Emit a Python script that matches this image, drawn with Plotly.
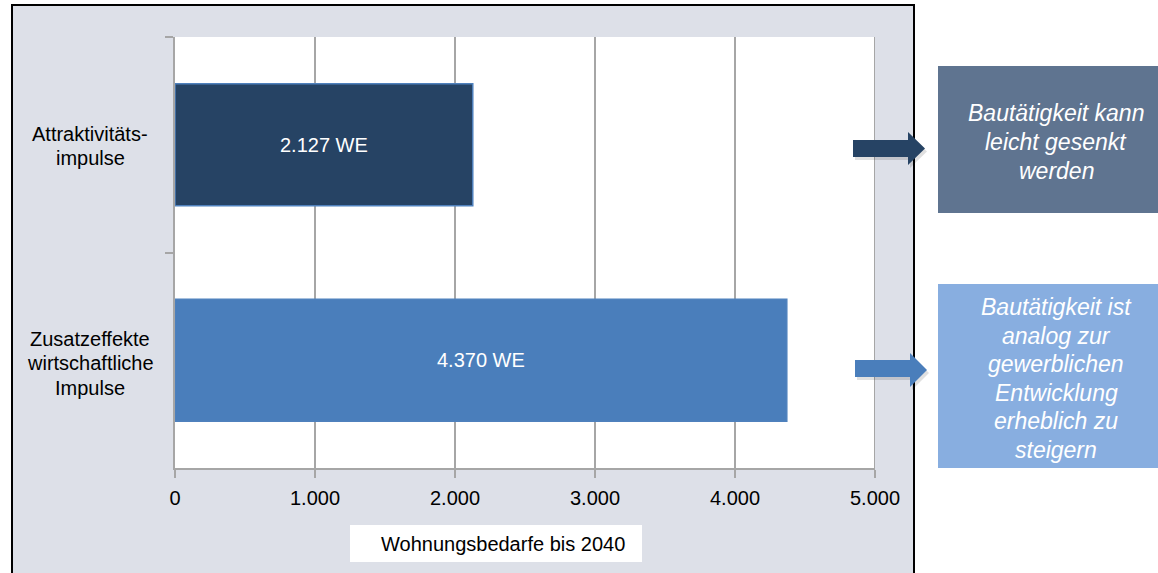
import plotly.graph_objects as go

# ---------------- data ----------------
categories = ["Attraktivitäts-impulse", "Zusatzeffekte wirtschaftliche Impulse"]
category_lines = [["Attraktivitäts-", "impulse"], ["Zusatzeffekte", "wirtschaftliche", "Impulse"]]
values = [2127, 4370]
bar_colors = ["#264364", "#4A7EBB"]
x_ticks = [0, 1000, 2000, 3000, 4000, 5000]
x_tick_labels = ["0", "1.000", "2.000", "3.000", "4.000", "5.000"]
axis_title = "Wohnungsbedarfe bis 2040"
box_lines = [["Bautätigkeit kann", "leicht gesenkt", "werden"],
             ["Bautätigkeit ist", "analog zur", "gewerblichen", "Entwicklung", "erheblich zu", "steigern"]]
box_colors = ["#5F7490", "#88AEE0"]
arrow_colors = ["#264364", "#4A7EBB"]

FONT = "Liberation Sans, Arial, sans-serif"

# ---------------- layout helpers (pixel -> paper) ----------------
WIDTH, HEIGHT = 1158, 573
L, T, W, H = 175, 37, 700, 431


def px(x):
    return (x - L) / W


def py(y):
    return (T + H - y) / H


bar_text = [f"{v:,}".replace(",", ".") + " WE" for v in values]

fig = go.Figure()
fig.add_trace(go.Bar(
    y=categories, x=values, orientation="h",
    marker=dict(color=bar_colors, line=dict(color="#4F81BD", width=1.5)),
    text=bar_text, textposition="inside", insidetextanchor="middle",
    textfont=dict(family=FONT, size=20, color="white"),
    hoverinfo="skip",
))

shapes = []
# grey outer panel
shapes.append(dict(type="rect", xref="paper", yref="paper", layer="below",
                   x0=px(12), x1=px(914), y0=py(600), y1=py(5),
                   fillcolor="#DDE0E8", line=dict(color="black", width=2)))
# white plot area
shapes.append(dict(type="rect", xref="paper", yref="paper", layer="below",
                   x0=0, x1=1, y0=0, y1=1, fillcolor="white", line=dict(width=0)))
# gridline at the right end of the value axis
shapes.append(dict(type="line", xref="x", yref="paper", layer="below",
                   x0=x_ticks[-1], x1=x_ticks[-1], y0=0, y1=1,
                   line=dict(color="#A6A6A6", width=2)))
# axis title box
shapes.append(dict(type="rect", xref="paper", yref="paper", layer="below",
                   x0=px(350), x1=px(642), y0=py(562), y1=py(525),
                   fillcolor="white", line=dict(width=0)))

# right-hand boxes
box_geo = [(938, 1158, 66, 213), (938, 1158, 284, 468)]
for (x0, x1, y0, y1), c in zip(box_geo, box_colors):
    shapes.append(dict(type="rect", xref="paper", yref="paper",
                       x0=px(x0), x1=px(x1), y0=py(y1), y1=py(y0),
                       fillcolor=c, line=dict(width=0)))

# arrows: (shaft x0, shaft x1, shaft y0, shaft y1, head y0, head y1, tip x)
arrow_geo = [(853, 908, 140, 157, 132, 165, 925), (855, 910, 360, 377, 353, 387, 927)]


def arrow_path(g, dx=0, dy=0):
    sx0, sx1, sy0, sy1, hy0, hy1, tx = g
    pts = [(sx0, sy0), (sx1, sy0), (sx1, hy0), (tx, (hy0 + hy1) / 2),
           (sx1, hy1), (sx1, sy1), (sx0, sy1)]
    return "M " + " L ".join(f"{px(x + dx)},{py(y + dy)}" for x, y in pts) + " Z"


for g, c in zip(arrow_geo, arrow_colors):
    shapes.append(dict(type="path", xref="paper", yref="paper",
                       path=arrow_path(g, 2, 3), fillcolor="rgba(0,0,0,0.12)",
                       line=dict(width=0)))
    shapes.append(dict(type="path", xref="paper", yref="paper",
                       path=arrow_path(g), fillcolor=c, line=dict(width=0)))

annotations = []
# category labels (centered, multi-line)
LINE = 24.5
for cat, lines in zip(categories, category_lines):
    n = len(lines)
    for i, ln in enumerate(lines):
        annotations.append(dict(
            xref="paper", yref="y", x=px(90), y=cat, text=ln, showarrow=False,
            xanchor="center", yanchor="middle",
            yshift=((n - 1) / 2 - i) * LINE - (1 if n == 2 else 3),
            font=dict(family=FONT, size=20, color="black")))

# axis title
annotations.append(dict(xref="paper", yref="paper", x=px(503), y=py(544),
                        text=axis_title, showarrow=False, xanchor="center",
                        yanchor="middle", font=dict(family=FONT, size=20, color="black")))

# box texts, one annotation per line
box_centers = [(1056, 142), (1056, 378.5)]
BOX_LINE = 28.6
for (cx, cy), lines in zip(box_centers, box_lines):
    n = len(lines)
    for i, ln in enumerate(lines):
        annotations.append(dict(
            xref="paper", yref="paper", x=px(cx), y=py(cy + (i - (n - 1) / 2) * BOX_LINE),
            text=ln, showarrow=False, xanchor="center", yanchor="middle",
            font=dict(family=FONT, size=23, color="white", style="italic")))

fig.update_layout(
    width=WIDTH, height=HEIGHT,
    margin=dict(l=L, r=WIDTH - L - W, t=T, b=HEIGHT - T - H),
    paper_bgcolor="white", plot_bgcolor="rgba(0,0,0,0)",
    bargap=0.434, showlegend=False,
    shapes=shapes, annotations=annotations,
    font=dict(family=FONT, size=20, color="black"),
)
fig.update_xaxes(range=[0, 5000], tickvals=x_ticks, ticktext=x_tick_labels,
                 showgrid=True, gridcolor="#A6A6A6", gridwidth=1.5,
                 showline=True, linecolor="#A6A6A6", linewidth=2,
                 ticks="outside", ticklen=8, tickcolor="#A6A6A6", tickwidth=2,
                 ticklabelstandoff=3,
                 zeroline=False, tickfont=dict(family=FONT, size=20, color="black"),
                 fixedrange=True)
fig.update_yaxes(autorange="reversed", showgrid=False, showticklabels=False,
                 showline=True, linecolor="#A6A6A6", linewidth=2,
                 ticks="outside", tickson="boundaries", ticklen=8,
                 tickcolor="#A6A6A6", tickwidth=2, fixedrange=True)

fig.write_html("out.html", config={"displayModeBar": False})
